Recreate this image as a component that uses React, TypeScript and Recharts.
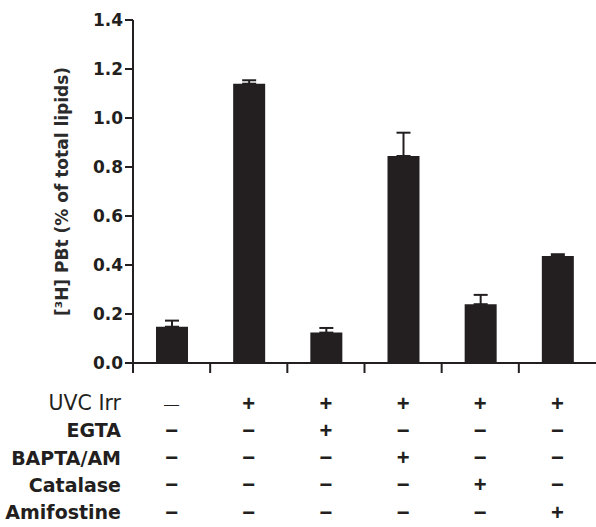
import * as React from 'react';
import { BarChart, Bar, XAxis, YAxis, ErrorBar } from 'recharts';

const conditions = ['c1', 'c2', 'c3', 'c4', 'c5', 'c6'];
const pbtMeans = [0.148, 1.14, 0.124, 0.845, 0.24, 0.437];
const pbtErrors = [0.025, 0.014, 0.019, 0.095, 0.038, 0.007];
const yTicks = [0, 0.2, 0.4, 0.6, 0.8, 1.0, 1.2, 1.4];

const treatmentNames = ['UVC Irr', 'EGTA', 'BAPTA/AM', 'Catalase', 'Amifostine'];
const uvcIrr = [0, 1, 1, 1, 1, 1];
const egta = [0, 0, 1, 0, 0, 0];
const baptaAm = [0, 0, 0, 1, 0, 0];
const catalase = [0, 0, 0, 0, 1, 0];
const amifostine = [0, 0, 0, 0, 0, 1];
const treatmentRows = [uvcIrr, egta, baptaAm, catalase, amifostine];

const data = conditions.map((name, i) => ({
  name,
  value: pbtMeans[i],
  err: [0, pbtErrors[i]],
}));

const WIDTH = 596;
const HEIGHT = 527;
const AXIS_LEFT = 133;
const FONT = '"DejaVu Sans", sans-serif';
const SYMBOL_FONT = '"Liberation Sans", Arial, sans-serif';
const INK = '#231f20';

const band = (WIDTH - AXIS_LEFT) / conditions.length;

function TableTick(props: any) {
  const { x, y, index } = props;
  const axisY = y;
  const rowY = (r: number) => axisY + 40 + r * 27.3;
  return (
    <g>
      <line x1={x - band / 2} y1={axisY} x2={x - band / 2} y2={axisY + 10} stroke={INK} strokeWidth={2} />
      {index === 0 &&
        treatmentNames.map((t, r) => (
          <text
            key={t}
            x={121}
            y={rowY(r)}
            textAnchor="end"
            dominantBaseline="central"
            fontFamily={FONT}
            fontSize={r === 0 ? 20.5 : 19}
            fontWeight={r === 0 ? 'normal' : 'bold'}
            fill={INK}
          >
            {t}
          </text>
        ))}
      {treatmentRows.map((row, r) => {
        const on = row[index] === 1;
        const firstRowOff = r === 0 && !on;
        return (
          <text
            key={r}
            x={x}
            y={rowY(r)}
            textAnchor="middle"
            dominantBaseline="central"
            fontFamily={SYMBOL_FONT}
            fontSize={firstRowOff ? 15 : 22}
            fontWeight={firstRowOff ? 'normal' : 'bold'}
            fill={INK}
          >
            {on ? '+' : firstRowOff ? '—' : '−'}
          </text>
        );
      })}
    </g>
  );
}

export default function App() {
  return (
    <div style={{ width: WIDTH, height: HEIGHT, background: '#fff' }}>
      <style>{'body{margin:0}'}</style>
      <BarChart
        width={WIDTH}
        height={HEIGHT}
        data={data}
        margin={{ top: 20, right: 0, bottom: 0, left: 0 }}
        barCategoryGap={0}
      >
        <YAxis
          width={AXIS_LEFT}
          domain={[0, 1.4]}
          ticks={yTicks}
          tickFormatter={(v: number) => v.toFixed(1)}
          tickSize={8}
          tickMargin={2}
          axisLine={{ stroke: INK, strokeWidth: 2 }}
          tickLine={{ stroke: INK, strokeWidth: 2 }}
          tick={{ fontFamily: FONT, fontSize: 17, fontWeight: 'bold', fill: INK }}
          label={{
            value: '[³H] PBt (% of total lipids)',
            angle: -90,
            position: 'insideLeft',
            offset: 62,
            style: { fontFamily: FONT, fontSize: 17, fontWeight: 'bold', fill: '#2b2b2b', textAnchor: 'middle' },
          }}
        />
        <XAxis
          dataKey="name"
          height={164}
          interval={0}
          tickLine={false}
          tickSize={0}
          tickMargin={0}
          axisLine={{ stroke: INK, strokeWidth: 2 }}
          tick={<TableTick />}
        />
        <Bar dataKey="value" fill={INK} barSize={32} isAnimationActive={false}>
          <ErrorBar dataKey="err" direction="y" width={7} stroke={INK} strokeWidth={2} />
        </Bar>
      </BarChart>
    </div>
  );
}
